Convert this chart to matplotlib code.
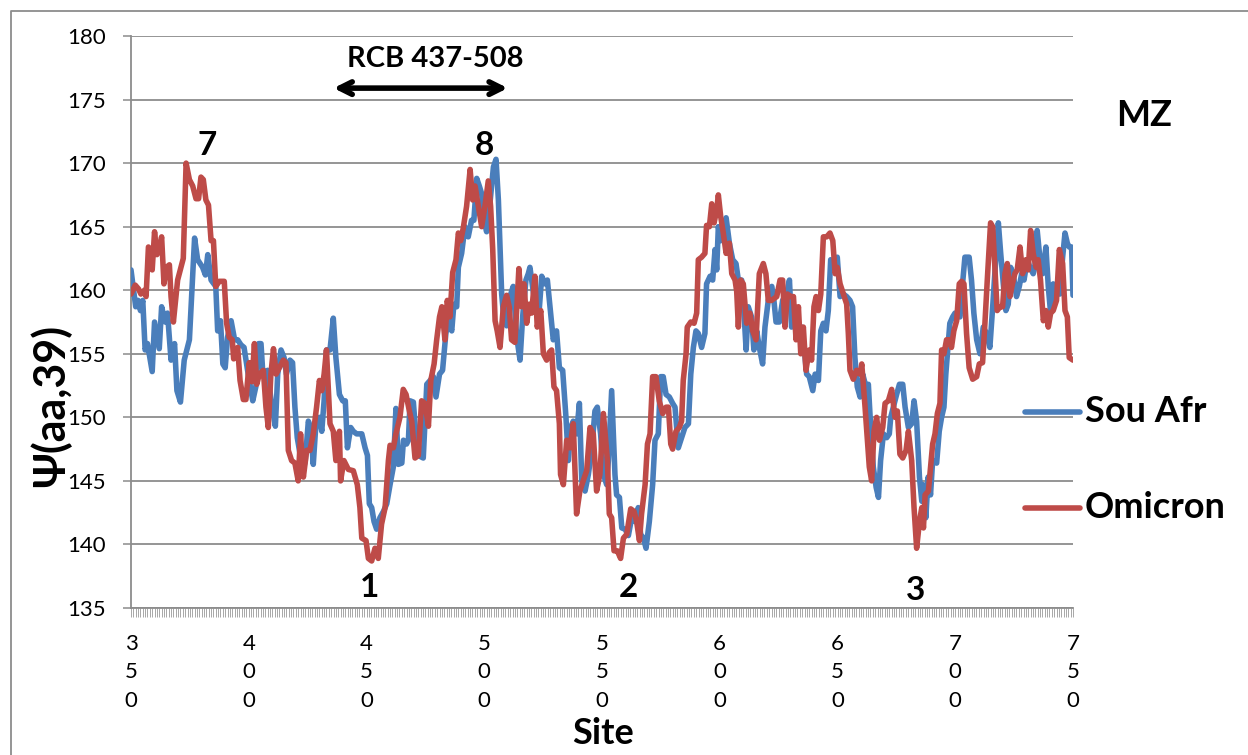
import matplotlib
matplotlib.use("Agg")
import matplotlib.pyplot as plt
from matplotlib.lines import Line2D
from matplotlib.ticker import MultipleLocator

plt.rcParams['font.family'] = ['Lato', 'DejaVu Sans']

# ---------------- data ----------------
sou_sites = [350, 352, 353, 354, 355, 356, 357, 359, 360, 362, 363, 364.5, 365.5, 367, 368.5, 369.5, 371,
             372.6, 374.8, 377, 378.3, 380.4, 381.6, 382.6, 384, 386, 386.8, 388, 389, 390, 391, 392.5, 394,
             395.3, 396.7, 398, 399.5, 401.7, 403, 404.2, 405.2, 406, 408, 409.5, 411.3, 412.3, 413.7, 415,
             416, 417.5, 418.6, 419.6, 420.6, 421.8, 423.2, 424, 425.3, 426.3, 427.4, 428.6, 430, 431, 432,
             433, 434.5, 435.9, 437, 438.5, 439.9, 441, 441.9, 443.3, 444.4, 445.8, 448, 449.4, 450.4, 451.2,
             452.2, 453.2, 454.3, 455.7, 457.2, 458.6, 460, 461.4, 462.5, 463.5, 465, 465.7, 467, 467.8, 468.5,
             469.9, 470.6, 472, 474.1, 475.6, 477, 478.4, 479.5, 481, 482.3, 483.7, 484.7, 486.2, 487.1, 488.3,
             489, 490.4, 491.8, 493.2, 494.6, 495.6, 496.8, 497.9, 498.9, 499.9, 501, 502.4, 503.9, 505, 506,
             507.4, 508.4, 509.5, 510.9, 512.3, 513.8, 515.2, 516.3, 517.7, 518.7, 519.4, 520.5, 522, 523,
             524.4, 525.8, 526.8, 527.9, 529.3, 530.7, 531.9, 533.3, 534.7, 535.7, 536.7, 537.8, 539.2, 540.4,
             541.4, 542.8, 544.2, 545.6, 547, 548, 549.4, 550.6, 552, 552.7, 554.1, 555.5, 556.2, 557.4, 558.4,
             559.8, 561.2, 562.6, 564, 565.4, 566.4, 567.6, 568.7, 570.1, 571.5, 572.5, 573.9, 574.9, 576,
             577.2, 578.6, 580, 581, 582.4, 583.8, 585.2, 586.7, 587.7, 588.8, 589.9, 590.9, 592.3, 593.7,
             594.4, 595.9, 597, 598, 598.7, 599.4, 600.4, 601.5, 602.7, 604.1, 605.5, 606.9, 607.9, 609.3,
             610.3, 611.2, 612.1, 613.5, 614.5, 615.7, 616.8, 618.2, 619.2, 620.6, 622.1, 623, 623.9, 625.3,
             626.7, 628.4, 629.6, 630.5, 632, 633.4, 634.8, 635.8, 636.9, 638, 639.5, 640.5, 641.9, 642.9,
             644, 645.1, 646.1, 647.1, 648.5, 649.9, 651.1, 652.5, 653.9, 655.3, 656.4, 657.4, 658.4, 659.6,
             660.7, 662.1, 663.1, 664.1, 665.2, 666.4, 667.4, 668.3, 669.5, 670.9, 672, 672.6, 673.7, 675.1,
             676.3, 677.7, 678.7, 680.1, 681.5, 682.5, 683.6, 684.8, 685.8, 686.4, 687.5, 688.5, 689.5, 690.4,
             692.1, 693.2, 694.2, 695.2, 696, 697, 697.7, 698.9, 699.9, 700.9, 702, 703.1, 704.1, 705.9,
             706.9, 707.9, 709.1, 710.5, 711.9, 713.3, 714.7, 715.9, 716.8, 718.3, 719.3, 720.4, 721.5, 722.5,
             723.5, 724.6, 726, 727.2, 728.2, 729.2, 730.6, 731.7, 733.1, 733.8, 734.8, 736, 737.1, 738.5,
             739.5, 740.5, 741.6, 742.7, 743.7, 744.4, 745.6, 746.6, 747.6, 748.4, 749.4, 750]
sou_values = [161.6, 158.7, 159.2, 158.4, 159.2, 155.3, 155.8, 153.6, 157.5, 155.4, 158.7, 157.5, 158.2, 154.5,
              155.8, 152.1, 151.2, 154.5, 156.1, 164.1, 162.4, 161.8, 161.2, 162.8, 160.8, 160.3, 156.8, 157.6,
              154.2, 153.9, 156.3, 157.6, 156.1, 156.1, 155.7, 155.5, 153.7, 151.3, 152.4, 155.8, 155.8, 153.4,
              153.7, 151.3, 149.3, 153.4, 155.3, 154.7, 153.4, 154.5, 154.3, 150.8, 148.4, 147.1, 145.9, 146.6,
              149.7, 149.2, 146.3, 149.7, 150.0, 148.9, 151.3, 155.3, 155.3, 157.8, 154.7, 151.8, 151.3, 151.3,
              147.6, 149.2, 148.9, 148.7, 148.7, 147.6, 147.0, 143.2, 142.9, 141.8, 141.2, 142.1, 142.6, 143.2,
              144.7, 146.1, 150.7, 146.3, 146.4, 148.2, 147.9, 148.2, 151.3, 151.2, 149.5, 147.0, 146.8, 152.6,
              152.9, 153.2, 151.6, 153.4, 153.7, 156.6, 157.6, 156.8, 158.9, 158.7, 161.8, 162.9, 165.0, 164.2,
              165.5, 165.5, 168.8, 168.2, 167.6, 165.5, 164.6, 166.8, 169.7, 170.3, 167.1, 159.7, 157.6, 157.2,
              159.5, 160.3, 156.3, 154.5, 157.9, 160.8, 161.3, 161.8, 160.3, 158.4, 157.6, 161.1, 160.5, 160.8,
              158.7, 156.1, 156.8, 153.9, 153.7, 150.0, 146.6, 149.2, 149.7, 148.7, 151.1, 145.0, 144.2, 145.5,
              147.4, 150.5, 150.8, 148.7, 145.5, 144.7, 146.6, 152.1, 145.5, 143.9, 143.7, 141.3, 141.2, 140.7,
              142.1, 141.8, 142.9, 140.8, 140.5, 139.7, 141.8, 144.7, 148.2, 148.7, 153.2, 153.2, 151.8, 151.6,
              151.1, 150.8, 147.6, 148.4, 149.2, 149.5, 153.4, 155.5, 156.8, 156.6, 155.5, 156.6, 160.5, 161.1,
              160.8, 163.2, 161.6, 165.0, 163.9, 164.7, 165.7, 163.7, 162.4, 162.1, 160.8, 160.8, 158.2, 155.3,
              158.7, 157.9, 155.3, 156.8, 155.5, 154.2, 157.1, 159.2, 160.3, 159.2, 157.5, 157.5, 159.2, 159.7,
              160.8, 157.1, 158.2, 156.6, 157.1, 155.5, 153.4, 153.2, 152.1, 153.4, 152.9, 156.8, 157.4, 156.8,
              158.4, 162.4, 161.8, 162.6, 159.5, 159.7, 159.5, 159.2, 158.7, 154.7, 152.4, 151.6, 153.4, 152.4,
              152.6, 149.2, 146.1, 144.5, 143.7, 146.6, 148.7, 148.4, 148.7, 150.0, 150.8, 151.8, 152.6, 152.6,
              150.8, 149.2, 149.5, 151.3, 149.7, 145.3, 143.4, 144.7, 142.1, 145.3, 143.9, 146.6, 146.4, 148.9,
              150.0, 150.8, 153.4, 155.8, 157.4, 157.9, 158.2, 158.2, 157.9, 160.5, 162.6, 162.6, 160.8, 158.2,
              156.1, 155.0, 157.1, 156.6, 155.5, 158.7, 161.3, 165.3, 162.9, 160.5, 158.4, 158.9, 161.8, 161.3,
              159.5, 160.3, 161.3, 160.8, 162.4, 161.8, 161.3, 161.8, 164.7, 162.4, 161.3, 163.4, 160.3, 158.2,
              160.5, 159.2, 160.8, 159.7, 162.6, 164.5, 163.7, 163.4, 163.4, 159.6]

omi_sites = [350, 351.8, 353.2, 354.2, 355.7, 356.4, 357.4, 358.1, 359, 360, 361, 362, 363, 364, 365, 366.3,
             367, 368, 369.8, 371.2, 372.2, 373.4, 374.8, 376.2, 377.6, 378.7, 379.7, 380.7, 381.8, 382.9,
             384, 385, 386, 387.5, 389.6, 390.6, 391.7, 393, 393.6, 395.3, 396.3, 397.7, 398.8, 400.2, 401.4,
             402.4, 403.4, 404.5, 406.2, 407.3, 408.3, 409.4, 410.5, 411.6, 413, 414.7, 415.8, 416.8, 418.2,
             419.6, 421, 422, 423.2, 424.6, 426, 427.4, 428.8, 430, 431, 432, 433, 434.5, 435.9, 437, 438.5,
             439, 440.4, 442.3, 444.4, 446.1, 447.2, 448, 449.8, 450.8, 452.2, 453.6, 455, 456.4, 457.9, 459.3,
             460, 461.4, 462.5, 464.2, 465.6, 466.8, 468.2, 469.2, 470.6, 472, 473.4, 474.8, 476.3, 477.3,
             478.7, 479.8, 481, 482, 483.3, 484.3, 485.4, 486.6, 488, 489, 490, 491.1, 492.5, 494, 495.1,
             496.1, 497.5, 498.9, 500.3, 501.7, 502.7, 503.6, 504.6, 505.5, 506.7, 508.1, 509.5, 510.6, 511.6,
             513, 514, 514.7, 515.9, 516.9, 518, 519.1, 520.1, 521.5, 522.5, 524, 525.1, 526.5, 527.6, 528.6,
             529.6, 530.7, 531.9, 532.4, 533.6, 535, 536.4, 537.8, 539.2, 540.6, 542, 543.5, 544.9, 546.3,
             547.7, 549.1, 550.6, 552.3, 553.1, 554.1, 555.1, 556.5, 557.9, 559.1, 560.5, 562.2, 563.6, 564.7,
             565.9, 566.8, 568.3, 569.3, 570.4, 571.5, 572.9, 574.3, 575.8, 577.2, 578.2, 579.2, 580, 581.4,
             582.8, 583.8, 584.5, 585.7, 586.2, 587.7, 589.1, 590.2, 590.9, 592.3, 593.7, 594.4, 595.6, 596.6,
             597.6, 598.7, 599.4, 600.4, 601.5, 602.7, 604.1, 605.1, 606.5, 607.2, 607.9, 608.9, 610, 611.4,
             612.8, 614, 615.4, 616.8, 618.5, 619.6, 620.6, 622, 624.2, 625.6, 626.7, 627.7, 628.7, 630.1,
             631.3, 632.4, 633.4, 634.4, 635.5, 636.6, 638, 639, 640, 640.9, 641.9, 642.9, 644, 645.4, 646.8,
             648, 649, 649.9, 651.1, 652.5, 653.9, 654.6, 655.3, 656.7, 658.1, 659.6, 660.3, 661.7, 662.7,
             663.5, 664.5, 665.5, 666.6, 667.8, 669.2, 670.2, 671.6, 673, 674.4, 675.4, 676.5, 677.7, 679.1,
             680.1, 681.5, 682.5, 683.6, 684.8, 685.8, 686.5, 687.2, 688.6, 690.4, 691.4, 692.4, 693.5, 694.2,
             695.2, 696.3, 697.5, 698.4, 699.4, 700.6, 701.7, 702.7, 703.7, 704.8, 705.9, 707.4, 709.1, 710.2,
             711.6, 712.6, 713.6, 715, 715.9, 716.8, 717.8, 719, 720.1, 721.1, 722.1, 723.2, 724.3, 725.3,
             726.3, 727.5, 728.6, 730, 731, 732, 733.1, 734.3, 735.2, 736.2, 737.4, 738.5, 739.5, 740.5, 741.6,
             743, 744.2, 745.6, 746.6, 747.6, 748.4, 750]
omi_values = [159.7, 160.4, 160.1, 159.7, 160.0, 159.5, 163.4, 163.2, 161.6, 164.6, 162.8, 163.2, 164.2, 160.5,
              161.8, 162.0, 159.5, 157.5, 160.8, 161.8, 162.5, 170.0, 168.7, 168.2, 167.2, 167.2, 168.9, 168.7,
              167.1, 166.7, 163.9, 163.9, 160.3, 160.7, 160.7, 157.4, 156.3, 156.1, 154.6, 155.5, 152.9, 151.4,
              151.4, 154.3, 152.8, 155.8, 152.6, 153.4, 153.7, 150.8, 149.2, 153.4, 155.4, 153.4, 153.9, 154.5,
              154.3, 147.4, 146.6, 146.4, 145.0, 148.7, 145.3, 147.4, 147.4, 148.7, 150.8, 152.9, 152.1, 153.4,
              155.3, 149.5, 148.9, 146.6, 148.9, 145.0, 146.6, 145.9, 145.8, 144.7, 142.9, 140.5, 140.3, 138.9,
              138.7, 139.7, 138.9, 141.6, 142.9, 146.6, 147.8, 147.6, 148.7, 150.0, 152.2, 151.8, 150.5, 149.7,
              146.8, 147.0, 151.3, 151.1, 149.3, 152.9, 154.2, 156.1, 157.9, 158.7, 156.1, 159.2, 157.9, 161.4,
              162.4, 164.5, 163.9, 164.9, 166.6, 169.5, 167.1, 168.2, 166.6, 165.0, 166.6, 168.6, 166.6, 163.2,
              157.6, 156.8, 155.5, 158.7, 159.6, 158.7, 156.1, 155.9, 159.2, 161.7, 158.7, 160.5, 157.4, 158.9,
              158.2, 161.1, 157.1, 158.4, 155.0, 154.5, 155.1, 155.3, 152.4, 152.1, 149.5, 145.5, 144.7, 148.2,
              147.6, 149.5, 142.4, 144.2, 145.0, 145.8, 149.2, 148.7, 144.2, 145.5, 150.3, 146.6, 142.4, 142.1,
              139.5, 139.5, 138.9, 140.5, 140.8, 142.8, 142.6, 141.8, 140.3, 142.4, 144.7, 147.9, 148.7, 153.2,
              153.2, 151.3, 150.3, 150.8, 150.8, 147.9, 147.5, 148.9, 149.2, 149.7, 152.9, 155.0, 157.1, 157.5,
              157.4, 158.2, 162.4, 162.6, 162.9, 165.1, 165.0, 166.8, 165.3, 166.3, 167.5, 165.8, 164.5, 162.9,
              163.7, 161.3, 160.8, 159.9, 157.1, 160.8, 160.5, 157.4, 158.2, 156.8, 156.1, 161.3, 162.1, 161.3,
              159.2, 159.2, 159.5, 160.8, 160.8, 157.1, 159.7, 159.5, 159.5, 156.1, 158.7, 155.0, 157.1, 153.7,
              155.3, 154.5, 158.7, 159.5, 158.4, 159.7, 164.2, 164.2, 164.5, 163.9, 161.3, 161.8, 160.5, 159.7,
              158.9, 156.6, 153.7, 153.0, 153.7, 153.4, 154.2, 150.8, 148.2, 146.1, 145.0, 148.9, 150.0, 148.2,
              149.2, 151.1, 151.3, 152.2, 150.0, 150.5, 147.1, 146.8, 147.4, 148.9, 146.6, 142.9, 139.7, 141.8,
              142.9, 141.3, 143.9, 144.2, 147.9, 148.7, 150.3, 151.1, 155.3, 155.0, 156.1, 156.1, 155.5, 156.8,
              157.6, 160.5, 160.7, 160.5, 156.6, 153.9, 153.0, 153.2, 154.2, 154.3, 157.4, 160.8, 165.3, 165.0,
              161.8, 158.4, 158.7, 158.7, 161.3, 162.1, 159.5, 160.5, 161.3, 161.6, 163.4, 161.3, 162.4, 161.6,
              164.7, 162.9, 161.8, 162.4, 160.8, 157.6, 158.4, 157.1, 158.2, 158.4, 159.2, 163.2, 162.1, 158.4,
              157.9, 154.7, 154.5]

series_names = ["Sou Afr", "Omicron"]
x_ticks = [350, 400, 450, 500, 550, 600, 650, 700, 750]
y_ticks = [135, 140, 145, 150, 155, 160, 165, 170, 175, 180]
peak_labels = ["7", "8", "1", "2", "3"]
peak_sites = [382.3, 499.9, 451.5, 561.0, 683.3]
peak_levels = [171.4, 171.4, 136.6, 136.6, 136.4]
rcb_range = [436, 510]

BLUE = "#4A7EBB"
RED = "#BE4B48"
GRID = "#8c8c8c"
LW = 4.0

W, H = 1248, 755
fig = plt.figure(figsize=(W / 100, H / 100), dpi=100)
ax = fig.add_axes([131 / W, 1 - 608 / H, (1073 - 131) / W, (608 - 36) / H])

ax.plot(sou_sites, sou_values, color=BLUE, lw=LW, solid_joinstyle='round', solid_capstyle='round', zorder=3)
ax.plot(omi_sites, omi_values, color=RED, lw=LW, solid_joinstyle='round', solid_capstyle='round', zorder=4)

ax.set_xlim(350, 750)
ax.set_ylim(135, 180)
ax.set_yticks(y_ticks)
ax.set_yticklabels([str(v) for v in y_ticks], fontsize=16)
ax.set_xticks(x_ticks)
ax.set_xticklabels(["\n".join(str(v)) for v in x_ticks], fontsize=16, linespacing=1.55)
ax.xaxis.set_minor_locator(MultipleLocator(1))
ax.tick_params(axis='x', which='both', direction='out', length=6.5, width=0.6, color='#9a9a9a', pad=12)
ax.tick_params(axis='y', which='major', direction='out', length=6, width=1.1, color=GRID, pad=12)
ax.grid(axis='y', color=GRID, lw=1.3, zorder=0)
ax.set_axisbelow(True)
for s in ['top', 'right']:
    ax.spines[s].set_visible(False)
for s in ['left', 'bottom']:
    ax.spines[s].set_color(GRID)
    ax.spines[s].set_linewidth(1.3)

# peak labels
for lab, xs, ys in zip(peak_labels, peak_sites, peak_levels):
    ax.text(xs, ys, lab, fontsize=24, fontweight='bold', ha='center', va='center', zorder=5)

# RCB annotation
ax.annotate("", xy=(rcb_range[0], 175.9), xytext=(rcb_range[1], 175.9),
            arrowprops=dict(arrowstyle='<->,head_length=0.9,head_width=0.45', lw=4, color='black',
                            shrinkA=0, shrinkB=0))
ax.text((rcb_range[0] + rcb_range[1]) / 2 + 6, 178.2, "RCB 437-508", fontsize=21, fontweight='bold',
        ha='center', va='center')

# axis titles
fig.text(50 / W, 1 - 405 / H, "Ψ(aa,39)", rotation=90, fontsize=31, fontweight='bold',
         ha='center', va='center')
fig.text(603 / W, 1 - 733 / H, "Site", fontsize=26, fontweight='bold', ha='center', va='center')
fig.text(1144 / W, 1 - 115 / H, "MZ", fontsize=26, fontweight='bold', ha='center', va='center')

# legend
for name, col, yp in zip(series_names, [BLUE, RED], [412, 508]):
    fig.add_artist(Line2D([1025 / W, 1080 / W], [1 - yp / H, 1 - yp / H], color=col, lw=LW,
                          solid_capstyle='round'))
    fig.text(1085 / W, 1 - yp / H, name, fontsize=26, fontweight='bold', ha='left', va='center')

# outer chart border
fig.add_artist(Line2D([11 / W, 11 / W, 1.0], [0.0, 1 - 11 / H, 1 - 11 / H], color=GRID, lw=1.3))

fig.savefig("out.png", dpi=100)
